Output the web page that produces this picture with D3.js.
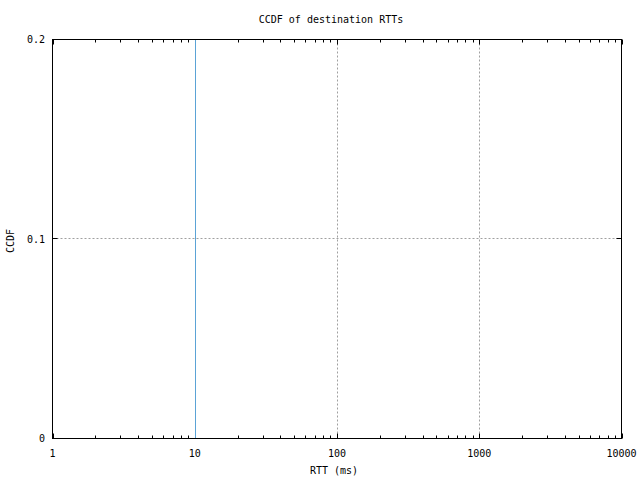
<!DOCTYPE html>
<html><head><meta charset="utf-8">
<script src="https://cdn.jsdelivr.net/npm/d3@7"></script>
<style>body{margin:0;background:#fff}svg{display:block}text{font-family:"DejaVu Sans Mono",monospace;font-size:10px;fill:#000}</style>
</head><body>
<svg id="c" width="640" height="480"></svg>
<script>
const rtt = [10.2, 10.2];
const ccdf = [1.0, 0.0];
const xTicks = [1, 10, 100, 1000, 10000];
const xTickLabels = ["1", "10", "100", "1000", "10000"];
const yTicks = [0, 0.1, 0.2];
const yTickLabels = ["0", "0.1", "0.2"];
const title = "CCDF of destination RTTs";
const xTitle = "RTT (ms)";
const yTitle = "CCDF";

const L=52.5, R=621.5, T=39.5, B=438.5;
const svg = d3.select("#c");
const x = d3.scaleLog().domain([1,10000]).range([L,R]);
const y = d3.scaleLinear().domain([0,0.2]).range([B,T]);
const px = v => Math.round(x(v)) + 0.5;
const py = v => Math.round(y(v)) - 0.5;

svg.append("defs").append("clipPath").attr("id","clip")
  .append("rect").attr("x",L).attr("y",T).attr("width",R-L).attr("height",B-T);

const grid = svg.append("g").attr("stroke","#a0a0a0").attr("stroke-dasharray","2,2").attr("stroke-width",1);
xTicks.slice(1,-1).forEach(v=>grid.append("line").attr("x1",px(v)).attr("x2",px(v)).attr("y1",T).attr("y2",B));
yTicks.slice(1,-1).forEach(v=>grid.append("line").attr("x1",L).attr("x2",R).attr("y1",py(v)).attr("y2",py(v)));

const minor=[];
for(let d=1; d<10000; d*=10) for(let k=2;k<10;k++) minor.push(d*k);
const tk = svg.append("g").attr("stroke","#000").attr("stroke-width",1);
minor.forEach(v=>{
  tk.append("line").attr("x1",px(v)).attr("x2",px(v)).attr("y1",B).attr("y2",B-3);
  tk.append("line").attr("x1",px(v)).attr("x2",px(v)).attr("y1",T).attr("y2",T+3);
});
xTicks.forEach(v=>{
  tk.append("line").attr("x1",px(v)).attr("x2",px(v)).attr("y1",B).attr("y2",B-5);
  tk.append("line").attr("x1",px(v)).attr("x2",px(v)).attr("y1",T).attr("y2",T+5);
});
yTicks.forEach(v=>{
  tk.append("line").attr("x1",L).attr("x2",L+5).attr("y1",py(v)).attr("y2",py(v));
  tk.append("line").attr("x1",R).attr("x2",R-5).attr("y1",py(v)).attr("y2",py(v));
});

const line = d3.line().x((d,i)=>Math.floor(x(rtt[i]))+0.5).y((d,i)=>y(ccdf[i]));
svg.append("path").datum(rtt).attr("clip-path","url(#clip)")
  .attr("d",line).attr("fill","none").attr("stroke","#5ba3d6").attr("stroke-width",1);

svg.append("rect").attr("x",L).attr("y",T).attr("width",R-L).attr("height",B-T)
  .attr("fill","none").attr("stroke","#000").attr("stroke-width",1);

xTicks.forEach((v,i)=>svg.append("text").attr("x",x(v)).attr("y",457).attr("text-anchor","middle").text(xTickLabels[i]));
yTicks.forEach((v,i)=>svg.append("text").attr("x",45).attr("y",y(v)+3.5).attr("text-anchor","end").text(yTickLabels[i]));
svg.append("text").attr("x",331).attr("y",23).attr("text-anchor","middle").text(title);
svg.append("text").attr("x",334).attr("y",474).attr("text-anchor","middle").text(xTitle);
svg.append("text").attr("transform","translate(14,241) rotate(-90)").attr("text-anchor","middle").text(yTitle);
</script>
</body></html>
